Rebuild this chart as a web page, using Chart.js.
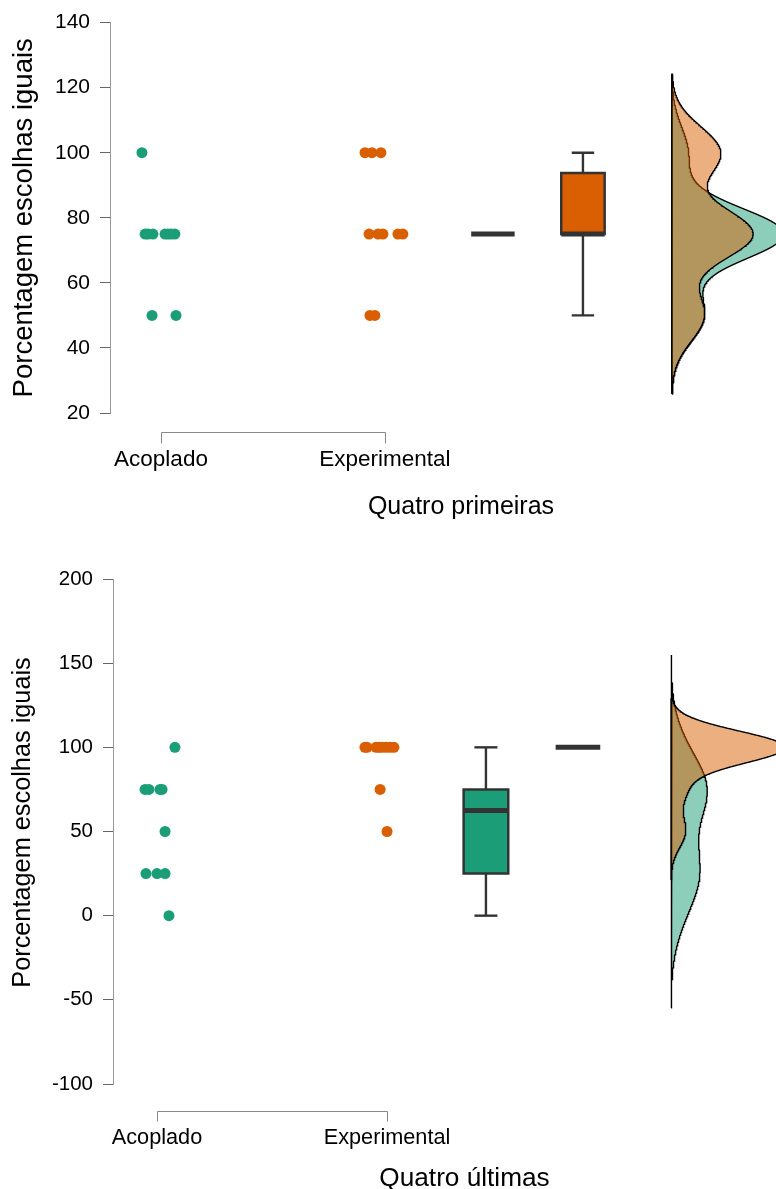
<!DOCTYPE html>
<html>
<head>
<meta charset="utf-8">
<script src="https://cdn.jsdelivr.net/npm/chart.js@4.4.1/dist/chart.umd.min.js"></script>
<style>
  html, body { margin: 0; padding: 0; background: #fff; }
  canvas { display: block; }
</style>
</head>
<body>
<canvas id="chart-first" width="776" height="540"></canvas>
<canvas id="chart-last" width="776" height="649"></canvas>
<script>
/* Raincloud JASP : points + boîtes + densités, deux panneaux. */

const GROUPS = ['Acoplado', 'Experimental'];
const Y_TITLE = 'Porcentagem escolhas iguais';

// Quatro primeiras
const firstAcoplado = [100, 75, 75, 75, 75, 75, 75, 75, 50, 50];
const firstAcopladoJitter = [-0.085, -0.071, -0.058, -0.036, 0.018, 0.031, 0.045, 0.062, -0.040, 0.067];
const firstExperimental = [100, 100, 100, 75, 75, 75, 75, 75, 50, 50];
const firstExperimentalJitter = [-0.089, -0.058, -0.018, -0.071, -0.031, -0.009, 0.058, 0.080, -0.067, -0.045];
const firstTicks = [20, 40, 60, 80, 100, 120, 140];

// Quatro últimas
const lastAcoplado = [100, 75, 75, 75, 75, 50, 25, 25, 25, 0];
const lastAcopladoJitter = [0.078, -0.052, -0.035, 0.013, 0.022, 0.035, -0.048, 0.0, 0.035, 0.052];
const lastExperimental = [100, 100, 100, 100, 100, 100, 100, 100, 75, 50];
const lastExperimentalJitter = [-0.096, -0.087, -0.048, -0.035, -0.022, -0.004, 0.013, 0.030, -0.030, 0.0];
const lastTicks = [-100, -50, 0, 50, 100, 150, 200];

const FONT = '"Liberation Sans", Arial, Helvetica, sans-serif';
const COLORS = ['#1b9e77', '#d95f02'];
const FILLS = ['rgba(27,158,119,0.5)', 'rgba(217,95,2,0.5)'];
const BOX_LINE = '#333333';
const BOX_HALF = 0.097;
const CAP_HALF = 0.05;

// Mise en page de chaque panneau (pixels / unités d'axe)
const firstLayout = {
  canvas: 'chart-first', title: 'Quatro primeiras',
  xMin: 0.7723, xMax: 3.746, yMin: 20, yMax: 140,
  boxX: [2.482, 2.884], densityX: 3.281, densityScale: 14.35,
  padTop: 20, axisWidth: 110, xAxisHeight: 127,
  bracketGap: 19, bracketTick: 11, labelPad: 33, titleY: 507, titleDx: 18,
  tickFont: 21, catFont: 22.5, titleFont: 25, yTitleFont: 27.5, yTitleX: 24, yTitleDy: 0
};
const lastLayout = {
  canvas: 'chart-last', title: 'Quatro últimas',
  xMin: 0.8087, xMax: 3.691, yMin: -100, yMax: 200,
  boxX: [2.430, 2.830], densityX: 3.235, densityScale: 14.8,
  padTop: 39, axisWidth: 113, xAxisHeight: 105,
  bracketGap: 27, bracketTick: 10, labelPad: 41, titleY: 639, titleDx: 20,
  tickFont: 20.5, catFont: 21.7, titleFont: 26.2, yTitleFont: 25.3, yTitleX: 23, yTitleDy: -9
};

// Quantile type 7 (R par défaut)
function quantile7(sorted, p) {
  const h = (sorted.length - 1) * p;
  const lo = Math.floor(h);
  const next = lo + 1 < sorted.length ? sorted[lo + 1] : sorted[lo];
  return sorted[lo] + (h - lo) * (next - sorted[lo]);
}

function boxStats(values) {
  const s = values.slice().sort((a, b) => a - b);
  const q1 = quantile7(s, 0.25), med = quantile7(s, 0.5), q3 = quantile7(s, 0.75);
  const iqr = q3 - q1;
  const inside = s.filter(v => v >= q1 - 1.5 * iqr && v <= q3 + 1.5 * iqr);
  return { q1, med, q3, lo: Math.min(...inside), hi: Math.max(...inside) };
}

// bw.nrd0 comme density() dans R
function bwNrd0(values) {
  const n = values.length;
  const mean = values.reduce((a, b) => a + b, 0) / n;
  const sd = Math.sqrt(values.reduce((a, v) => a + (v - mean) * (v - mean), 0) / (n - 1));
  const s = values.slice().sort((a, b) => a - b);
  let lo = Math.min(sd, (quantile7(s, 0.75) - quantile7(s, 0.25)) / 1.34);
  if (!lo) lo = sd || Math.abs(s[0]) || 1;
  return 0.9 * lo * Math.pow(n, -0.2);
}

// Contour de la densité (noyau gaussien, cut = 3), fermé sur la ligne de base
function densityPath(values, base, scale) {
  const bw = bwNrd0(values);
  const from = Math.min(...values) - 3 * bw;
  const to = Math.max(...values) + 3 * bw;
  const norm = 1 / (values.length * bw * Math.sqrt(2 * Math.PI));
  const pts = [{ x: base, y: from }];
  for (let i = 0; i < 512; i++) {
    const y = from + (to - from) * i / 511;
    let d = 0;
    values.forEach(v => { const z = (y - v) / bw; d += Math.exp(-0.5 * z * z); });
    pts.push({ x: base + d * norm * scale, y: y });
  }
  pts.push({ x: base, y: to }, { x: base, y: from });
  return pts;
}

function lineDs(points, color, width, order, extra) {
  return Object.assign({
    type: 'line', data: points, showLine: true, fill: false,
    borderColor: color, borderWidth: width, borderCapStyle: 'butt',
    pointRadius: 0, pointHoverRadius: 0, pointHitRadius: 0,
    tension: 0, order: order
  }, extra || {});
}

function buildDatasets(series, jitters, lay) {
  const ds = [];
  series.forEach((values, g) => {
    ds.push({
      type: 'scatter',
      data: values.map((v, i) => ({ x: g + 1 + jitters[g][i], y: v })),
      backgroundColor: COLORS[g], borderWidth: 0,
      pointRadius: 5.5, pointHoverRadius: 5.5, order: 0
    });

    const st = boxStats(values);
    const cx = lay.boxX[g];
    if (st.hi > st.q3) {
      ds.push(lineDs([{ x: cx, y: st.q3 }, { x: cx, y: st.hi }], BOX_LINE, 2.4, 3));
      ds.push(lineDs([{ x: cx - CAP_HALF, y: st.hi }, { x: cx + CAP_HALF, y: st.hi }], BOX_LINE, 2.4, 3));
    }
    if (st.lo < st.q1) {
      ds.push(lineDs([{ x: cx, y: st.lo }, { x: cx, y: st.q1 }], BOX_LINE, 2.4, 3));
      ds.push(lineDs([{ x: cx - CAP_HALF, y: st.lo }, { x: cx + CAP_HALF, y: st.lo }], BOX_LINE, 2.4, 3));
    }
    if (st.q3 > st.q1) {
      ds.push(lineDs([
        { x: cx - BOX_HALF, y: st.q1 }, { x: cx + BOX_HALF, y: st.q1 },
        { x: cx + BOX_HALF, y: st.q3 }, { x: cx - BOX_HALF, y: st.q3 },
        { x: cx - BOX_HALF, y: st.q1 }
      ], BOX_LINE, 2.5, 2, { fill: 'shape', backgroundColor: COLORS[g], borderJoinStyle: 'miter', borderCapStyle: 'square' }));
    }
    ds.push(lineDs([{ x: cx - BOX_HALF, y: st.med }, { x: cx + BOX_HALF, y: st.med }], BOX_LINE, 5, 1));

    // vert dessous, orange par-dessus
    ds.push(lineDs(densityPath(values, lay.densityX, lay.densityScale), '#000', 1.4, 5 - g,
      { fill: 'shape', backgroundColor: FILLS[g] }));
  });
  return ds;
}

function makeChart(lay, series, jitters, yTicks) {
  // crochet de l'axe x + titres des axes
  const decor = {
    id: 'decor',
    afterDraw(chart) {
      const { ctx, chartArea, scales } = chart;
      const x0 = Math.round(scales.x.getPixelForValue(1)) + 0.5;
      const x1 = Math.round(scales.x.getPixelForValue(GROUPS.length)) + 0.5;
      const y0 = Math.round(chartArea.bottom + lay.bracketGap) + 0.5;
      ctx.save();
      ctx.strokeStyle = '#888';
      ctx.lineWidth = 1;
      ctx.beginPath();
      ctx.moveTo(x0, y0 + lay.bracketTick);
      ctx.lineTo(x0, y0);
      ctx.lineTo(x1, y0);
      ctx.lineTo(x1, y0 + lay.bracketTick);
      ctx.stroke();

      ctx.fillStyle = '#000';
      ctx.textAlign = 'center';
      ctx.textBaseline = 'middle';
      ctx.font = lay.titleFont + 'px ' + FONT;
      ctx.fillText(lay.title, (chartArea.left + chartArea.right) / 2 + lay.titleDx, lay.titleY);

      ctx.translate(lay.yTitleX, (chartArea.top + chartArea.bottom) / 2 + lay.yTitleDy);
      ctx.rotate(-Math.PI / 2);
      ctx.font = lay.yTitleFont + 'px ' + FONT;
      ctx.fillText(Y_TITLE, 0, 0);
      ctx.restore();
    }
  };

  return new Chart(document.getElementById(lay.canvas), {
    type: 'scatter',
    data: { datasets: buildDatasets(series, jitters, lay) },
    plugins: [decor],
    options: {
      responsive: false,
      devicePixelRatio: 1,
      animation: false,
      events: [],
      layout: { autoPadding: false, padding: { top: lay.padTop, left: 0, right: 0, bottom: 0 } },
      plugins: { legend: { display: false }, tooltip: { enabled: false } },
      scales: {
        x: {
          type: 'linear', min: lay.xMin, max: lay.xMax,
          afterBuildTicks: s => { s.ticks = GROUPS.map((g, i) => ({ value: i + 1 })); },
          afterFit: s => { s.height = lay.xAxisHeight; },
          ticks: {
            callback: v => GROUPS[Math.round(v) - 1],
            color: '#000', padding: lay.labelPad, maxRotation: 0, autoSkip: false,
            font: { family: FONT, size: lay.catFont }
          },
          grid: { display: false, drawTicks: false },
          border: { display: false }
        },
        y: {
          type: 'linear', min: lay.yMin, max: lay.yMax,
          afterBuildTicks: s => { s.ticks = yTicks.map(v => ({ value: v })); },
          afterFit: s => { s.width = lay.axisWidth; },
          ticks: {
            callback: v => String(v),
            color: '#000', padding: 10,
            font: { family: FONT, size: lay.tickFont }
          },
          grid: { drawOnChartArea: false, drawTicks: true, tickLength: 10, color: '#666' },
          border: { display: true, color: '#999', width: 1 },
          title: { display: false }
        }
      }
    }
  });
}

makeChart(firstLayout, [firstAcoplado, firstExperimental], [firstAcopladoJitter, firstExperimentalJitter], firstTicks);
makeChart(lastLayout, [lastAcoplado, lastExperimental], [lastAcopladoJitter, lastExperimentalJitter], lastTicks);
</script>
</body>
</html>
